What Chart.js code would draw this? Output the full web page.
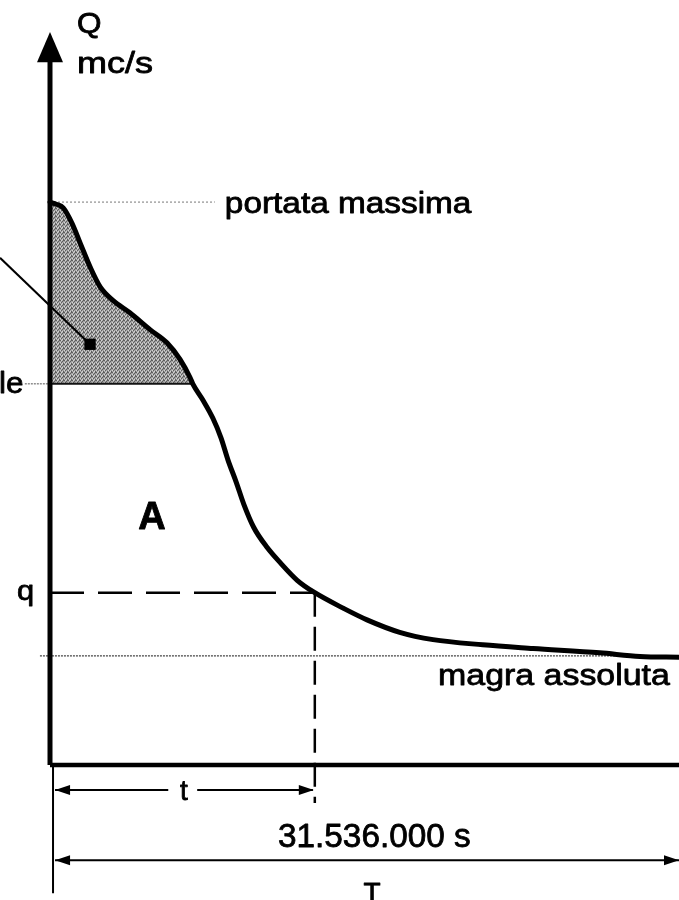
<!DOCTYPE html>
<html>
<head>
<meta charset="utf-8">
<script src="https://cdn.jsdelivr.net/npm/chart.js@4.4.1/dist/chart.umd.min.js"></script>
<style>
    html, body { margin: 0; padding: 0; background: #fff; }
    #curva { display: block; }
</style>
</head>
<body>
<canvas id="curva" width="679" height="900"></canvas>
<script>
// curva di durata delle portate: tempo come frazione dell'anno, Q in mc/s (unita' arbitrarie)
const curveT = [0, 0.010, 0.021, 0.035, 0.048, 0.064, 0.080, 0.100, 0.127, 0.159, 0.186, 0.207, 0.223, 0.227,
    0.243, 0.259, 0.272, 0.283, 0.296, 0.308, 0.324, 0.345, 0.366, 0.393, 0.421, 0.466, 0.504, 0.556,
    0.609, 0.688, 0.768, 0.874, 0.938, 1.0];
const curveQ = [76.8, 76.5, 76.0, 73.9, 71.2, 67.9, 65.2, 63.4, 61.7, 59.4, 57.6, 55.3, 52.8, 52.0,
    49.8, 47.3, 44.6, 41.6, 38.6, 35.6, 32.4, 29.7, 27.6, 25.2, 23.5, 21.4, 19.8, 18.1,
    17.1, 16.4, 15.9, 15.3, 14.8, 14.7];

const qMax = 76.8;      // portata massima
const qLe = 52.0;       // limite inferiore dell'area ombreggiata
const qDur = 23.5;      // q
const qMin = 14.9;      // magra assoluta
const tDur = 0.421;     // t
const tYear = 1.0;      // T = 31.536.000 s

// estensione della vista (frazione di anno / mc/s)
const X_MIN = -0.0795, X_MAX = 1.0;
const Y_MIN = -18.42, Y_MAX = 104.37;

const yAxisTop = 96.0;
const yArrowTip = 100.0;
const yDimT = -3.4;
const yDimYear = -13.0;
const yDimEnd = -5.2;
const yExtEnd = -17.5;

const labels = [
    { text: 'Q', x: 0.043, y: 99.9, size: 30, sx: 1.05 },
    { text: 'mc/s', x: 0.043, y: 94.4, size: 30, sx: 1.2 },
    { text: 'portata massima', x: 0.278, y: 75.3, size: 29, sx: 1.15 },
    { text: 'le', x: -0.081, y: 50.8, size: 30, sx: 1.05 },
    { text: 'A', x: 0.162, y: 32.2, size: 38, bold: true, align: 'center' },
    { text: 'q', x: -0.0525, y: 22.5, size: 28, sx: 1.1 },
    { text: 'magra assoluta', x: 0.617, y: 10.9, size: 30, sx: 1.13 },
    { text: 't', x: 0.213, y: -4.8, size: 28, align: 'center' },
    { text: '31.536.000 s', x: 0.3625, y: -11.2, size: 34, sx: 0.98 },
    { text: 'T', x: 0.512, y: -18.7, size: 28, align: 'center' }
];

function pts(xs, ys) {
    return xs.map((x, i) => ({ x: x, y: ys[i] }));
}

function stipple() {
    const c = document.createElement('canvas');
    c.width = 4; c.height = 4;
    const g = c.getContext('2d');
    g.fillStyle = '#a4a4a4';
    g.fillRect(0, 0, 4, 4);
    g.fillStyle = '#5e5e5e';
    [[0, 0], [2, 1], [1, 2], [3, 3], [3, 0]].forEach(p => g.fillRect(p[0], p[1], 1, 1));
    g.fillStyle = '#d4d4d4';
    [[2, 3], [0, 2], [1, 0]].forEach(p => g.fillRect(p[0], p[1], 1, 1));
    return g.createPattern(c, 'repeat');
}

function line(data, color, width, dash, order) {
    return {
        data: data,
        borderColor: color,
        borderWidth: width,
        borderDash: dash || [],
        pointRadius: 0,
        fill: false,
        tension: 0,
        spanGaps: false,
        order: order || 5
    };
}

const nShade = curveT.findIndex(t => t >= 0.227) + 1;

const datasets = [
    // area ombreggiata sopra il livello "le"
    {
        data: pts(curveT.slice(0, nShade), curveQ.slice(0, nShade)),
        borderWidth: 0,
        borderColor: 'rgba(0,0,0,0)',
        backgroundColor: stipple(),
        pointRadius: 0,
        cubicInterpolationMode: 'monotone',
        fill: { value: qLe },
        order: 20
    },
    // curva di durata
    {
        data: pts(curveT, curveQ),
        borderColor: '#000',
        borderWidth: 5,
        borderCapStyle: 'round',
        borderJoinStyle: 'round',
        pointRadius: 0,
        cubicInterpolationMode: 'monotone',
        fill: false,
        order: 0
    },
    line([{ x: 0, y: qMax }, { x: 0.262, y: qMax }], '#777', 1, [2, 2]),
    line([{ x: -0.016, y: qMin }, { x: tYear, y: qMin }], '#444', 1.3, [2, 1]),
    line([{ x: 0, y: qDur }, { x: tDur, y: qDur }], '#000', 2.5, [34, 14]),
    line([{ x: tDur, y: qDur }, { x: tDur, y: yDimEnd }], '#000', 2.5, [24, 10]),
    line([{ x: -0.04, y: qLe }, { x: 0, y: qLe }], '#555', 1, [2, 1]),
    line([{ x: 0, y: qLe }, { x: 0.227, y: qLe }], '#111', 2),
    // freccia indicatrice verso l'area ombreggiata
    {
        data: [{ x: -0.0795, y: 69.2 }, { x: 0.0636, y: 57.4 }],
        borderColor: '#000',
        borderWidth: 2,
        pointStyle: 'rect',
        pointRadius: [0, 8],
        pointBackgroundColor: '#000',
        pointBorderWidth: 0,
        fill: false,
        order: 4
    },
    // assi
    line([{ x: 0, y: 0 }, { x: 0, y: yAxisTop }], '#000', 5, null, 1),
    line([{ x: 0, y: 0 }, { x: tYear, y: 0 }], '#000', 4.5, null, 1),
    // linee di quota
    line([{ x: 0.0048, y: 0 }, { x: 0.0048, y: yExtEnd }], '#000', 2),
    line([{ x: 0.008, y: yDimT }, { x: 0.188, y: yDimT }, { x: 0.21, y: null }, { x: 0.234, y: yDimT }, { x: tDur - 0.003, y: yDimT }], '#000', 2),
    line([{ x: 0.008, y: yDimYear }, { x: tYear, y: yDimYear }], '#000', 2)
];

const annotations = {
    id: 'annotations',
    afterDatasetsDraw(chart) {
        const ctx = chart.ctx;
        const xs = chart.scales.x, ys = chart.scales.y;
        const px = v => xs.getPixelForValue(v);
        const py = v => ys.getPixelForValue(v);

        ctx.save();
        ctx.fillStyle = '#000';
        ctx.strokeStyle = '#000';

        // punta dell'asse Q
        ctx.beginPath();
        ctx.moveTo(px(0), py(yArrowTip));
        ctx.lineTo(px(0) + 13, py(yAxisTop) + 1);
        ctx.lineTo(px(0) - 13, py(yAxisTop) + 1);
        ctx.closePath();
        ctx.fill();

        const head = (x, y, dir) => {
            ctx.beginPath();
            ctx.moveTo(x, y);
            ctx.lineTo(x + dir * 15, y - 5);
            ctx.lineTo(x + dir * 15, y + 5);
            ctx.closePath();
            ctx.fill();
        };
        head(px(0.008), py(yDimT), 1);
        head(px(tDur) - 1, py(yDimT), -1);
        head(px(0.008), py(yDimYear), 1);
        head(px(tYear), py(yDimYear), -1);

        // testi un po' ingrossati, come nella scansione
        labels.forEach(l => {
            ctx.save();
            ctx.font = (l.bold ? 'bold ' : '') + l.size + 'px "Liberation Sans", Arial, sans-serif';
            ctx.textBaseline = 'alphabetic';
            ctx.textAlign = l.align || 'left';
            ctx.lineWidth = 0.8;
            ctx.lineJoin = 'round';
            ctx.translate(px(l.x), py(l.y));
            ctx.scale(l.sx || 1, 1);
            ctx.fillText(l.text, 0, 0);
            ctx.strokeText(l.text, 0, 0);
            ctx.restore();
        });
        ctx.restore();
    }
};

new Chart(document.getElementById('curva'), {
    type: 'line',
    data: { datasets: datasets },
    options: {
        responsive: false,
        animation: false,
        layout: { padding: 0, autoPadding: false },
        plugins: {
            legend: { display: false },
            tooltip: { enabled: false }
        },
        scales: {
            x: { type: 'linear', min: X_MIN, max: X_MAX, display: false },
            y: { type: 'linear', min: Y_MIN, max: Y_MAX, display: false }
        }
    },
    plugins: [annotations]
});
</script>
</body>
</html>
